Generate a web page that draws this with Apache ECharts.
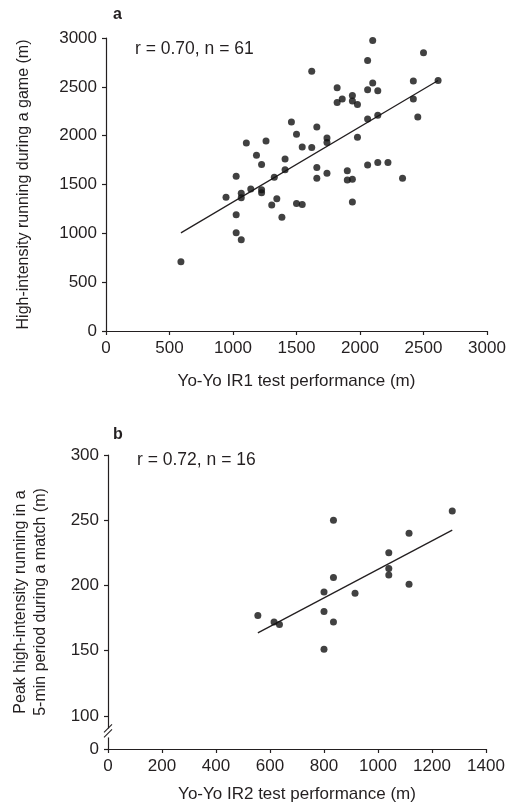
<!DOCTYPE html>
<html>
<head>
<meta charset="utf-8">
<script src="https://cdn.jsdelivr.net/npm/echarts@6/dist/echarts.min.js"></script>
<style>
html,body{margin:0;padding:0;background:#fff;}
#c{width:522px;height:806px;}
</style>
</head>
<body>
<div id="c"></div>
<script>
// ---- Panel a: Yo-Yo IR1 vs high-intensity running during a game ----
const xA = [2100,2500,2060,1820,2100,2060,2140,2420,2615,1940,
            1860,1820,1940,1980,2420,2455,2060,2140,1980,2060,
            2140,2220,1900,1900,1940,2335,1740,1460,1660,1500,
            1105,1260,1545,1620,1740,1740,1185,1225,1410,1410,
            1660,1660,1025,1325,1140,1065,1065,945,1225,1225,
            1345,1305,1500,1545,1025,1385,590,1025,1065,1940,
            1620];
const yA = [2975,2850,2770,2490,2540,2470,2460,2560,2565,2410,
            2375,2340,2355,2320,2375,2190,2170,2210,1985,1700,
            1725,1725,1640,1545,1555,1565,1615,2140,2090,2015,
            1925,1945,1885,1880,1975,1930,1800,1705,1760,1650,
            1675,1565,1585,1575,1455,1410,1365,1370,1445,1415,
            1355,1290,1305,1295,1190,1165,710,1005,935,1320,
            2660];
const fitAx = [590, 2615];
const fitAy = [1005, 2565];
const ticksA = [0,500,1000,1500,2000,2500,3000];

// ---- Panel b: Yo-Yo IR2 vs peak 5-min high-intensity running ----
const xB = [1275,835,1115,1040,1040,1040,835,800,915,1115,800,835,800,555,615,635];
const yB = [257,250,240,225,213,208,206,195,194,201,180,172,151,177,172,170];
const fitBx = [555, 1275];
const fitBy = [163.6, 242.4];
const ticksBx = [0,200,400,600,800,1000,1200,1400];
const ticksBy = [0,100,150,200,250,300];
// the y axis of panel b is broken between 0 and 100; 0 is drawn at this axis position
const breakZeroB = 74.6;

const FONT = "'Liberation Sans', Arial, Helvetica, sans-serif";
const INK = '#231f20';

function zipPts(xs, ys){ return xs.map((x,i)=>[x, ys[i]]); }
const yPosB = v => (v === 0 ? breakZeroB : v);
const plain = v => String(Math.round(v));

const axisCommon = {
  type: 'value',
  splitLine: {show:false},
  axisLine: {show:true, onZero:false, lineStyle:{color:INK, width:1.2}},
  axisTick: {show:true, inside:false, length:4, lineStyle:{color:INK, width:1.2}},
  axisLabel: {color:INK, fontFamily:FONT, fontSize:17, margin:9, formatter: plain},
  nameTextStyle: {color:INK, fontFamily:FONT, fontSize:17},
  nameLocation: 'middle'
};

const chart = echarts.init(document.getElementById('c'), null, {renderer:'canvas'});

const option = {
  animation: false,
  backgroundColor: '#fff',
  textStyle: {fontFamily: FONT},
  title: [
    {text:'a', left:108, top:2, textStyle:{fontFamily:FONT, fontSize:16, fontWeight:'bold', color:INK}},
    {text:'r = 0.70, n = 61', left:130, top:35, textStyle:{fontFamily:FONT, fontSize:17.5, fontWeight:'normal', color:INK}},
    {text:'b', left:108, top:422, textStyle:{fontFamily:FONT, fontSize:16, fontWeight:'bold', color:INK}},
    {text:'r = 0.72, n = 16', left:132, top:446, textStyle:{fontFamily:FONT, fontSize:17.5, fontWeight:'normal', color:INK}}
  ],
  grid: [
    {left:106, top:38, width:381, height:293},
    {left:108, top:455, width:378, height:294}
  ],
  xAxis: [
    Object.assign({}, axisCommon, {
      gridIndex:0, min:ticksA[0], max:ticksA[ticksA.length-1], interval:500,
      name:'Yo-Yo IR1 test performance (m)', nameGap:42
    }),
    Object.assign({}, axisCommon, {
      gridIndex:1, min:ticksBx[0], max:ticksBx[ticksBx.length-1], interval:200,
      name:'Yo-Yo IR2 test performance (m)', nameGap:37
    })
  ],
  yAxis: [
    Object.assign({}, axisCommon, {
      gridIndex:0, min:ticksA[0], max:ticksA[ticksA.length-1], interval:500,
      name:'High-intensity running during a game (m)', nameGap:74,
      nameTextStyle:{color:INK, fontFamily:FONT, fontSize:16}
    }),
    Object.assign({}, axisCommon, {
      gridIndex:1, min:breakZeroB, max:ticksBy[ticksBy.length-1],
      axisTick: {show:true, inside:false, length:4, lineStyle:{color:INK, width:1.2},
                 customValues: ticksBy.map(yPosB)},
      axisLabel: {color:INK, fontFamily:FONT, fontSize:17, margin:9,
                  customValues: ticksBy.map(yPosB),
                  formatter: v => (Math.abs(v - breakZeroB) < 1e-6 ? '0' : String(Math.round(v)))},
      name:'Peak high-intensity running in a\n5-min period during a match (m)', nameGap:57,
      nameTextStyle:{color:INK, fontFamily:FONT, fontSize:16, lineHeight:20}
    })
  ],
  series: [
    {type:'scatter', xAxisIndex:0, yAxisIndex:0, data:zipPts(xA,yA), symbol:'circle', symbolSize:7,
     itemStyle:{color:'#111'}, z:3},
    {type:'line', xAxisIndex:0, yAxisIndex:0, data:zipPts(fitAx,fitAy), symbol:'none',
     lineStyle:{color:INK, width:1.3}, z:2},
    {type:'scatter', xAxisIndex:1, yAxisIndex:1, data:zipPts(xB,yB), symbol:'circle', symbolSize:7,
     itemStyle:{color:'#111'}, z:3},
    {type:'line', xAxisIndex:1, yAxisIndex:1, data:zipPts(fitBx,fitBy), symbol:'none',
     lineStyle:{color:INK, width:1.3}, z:2}
  ]
};
chart.setOption(option);

// axis-break marks on panel b's y axis, positioned from the axis scale
const p0 = chart.convertToPixel({xAxisIndex:1, yAxisIndex:1}, [0, breakZeroB]);
const p100 = chart.convertToPixel({xAxisIndex:1, yAxisIndex:1}, [0, 100]);
const ax = p0[0];
const mid = (p0[1] + p100[1]) / 2 + 1;
chart.setOption({
  graphic: [
    {type:'rect', z:100, shape:{x:ax-2, y:mid-5, width:4, height:9}, style:{fill:'#fff'}},
    {type:'line', z:101, shape:{x1:ax-4, y1:mid-1, x2:ax+4, y2:mid-9}, style:{stroke:INK, lineWidth:1.1}},
    {type:'line', z:101, shape:{x1:ax-4, y1:mid+4, x2:ax+4, y2:mid-4}, style:{stroke:INK, lineWidth:1.1}}
  ]
});
</script>
</body>
</html>
